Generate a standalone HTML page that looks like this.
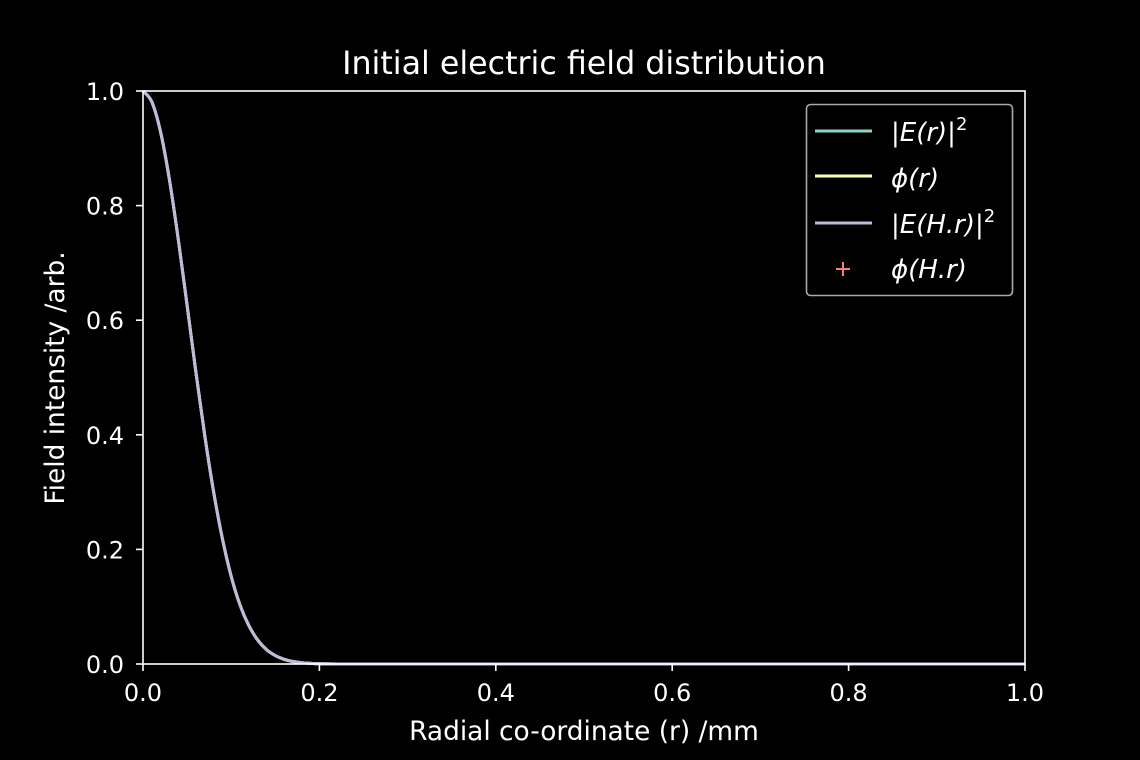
<!DOCTYPE html>
<html><head><meta charset="utf-8"><style>
html,body{margin:0;padding:0;background:#000;}
svg{display:block;font-family:"DejaVu Sans","Liberation Sans",sans-serif;}
</style></head><body>
<svg id="chart" width="1140" height="760" viewBox="0 0 1140 760">
<rect width="1140" height="760" fill="#000"/>
<text x="584" y="74" fill="#fff" font-size="31.7" text-anchor="middle">Initial electric field distribution</text>
<g id="marks"></g>
<g id="axes"></g>
<text x="584" y="740" fill="#fff" font-size="26.4" text-anchor="middle">Radial co-ordinate (r) /mm</text>
<text transform="translate(64,378) rotate(-90)" fill="#fff" font-size="26.4" text-anchor="middle">Field intensity /arb.</text>
<g>
<rect x="806.5" y="104.5" width="206" height="191" rx="4" fill="#000" fill-opacity="0.8" stroke="#aaa" stroke-width="1.6"/>
<g><line x1="815" y1="131" x2="872" y2="131" stroke="#8dd3c7" stroke-width="3"/>
<text x="891" y="141" fill="#fff" font-size="26" font-style="italic">|E(r)|<tspan font-size="18" dy="-11" font-style="normal">2</tspan></text></g>
<g><line x1="815" y1="176" x2="872" y2="176" stroke="#ffffb3" stroke-width="3"/>
<text x="891" y="187" fill="#fff" font-size="26" font-style="italic">ϕ(r)</text></g>
<g><line x1="815" y1="223" x2="872" y2="223" stroke="#bebada" stroke-width="3"/>
<text x="891" y="233" fill="#fff" font-size="26" font-style="italic">|E(H.r)|<tspan font-size="18" dy="-11" font-style="normal">2</tspan></text></g>
<g><path d="M836 269h14M843 262v14" stroke="#fb8072" stroke-width="2"/>
<text x="891" y="278" fill="#fff" font-size="26" font-style="italic">ϕ(H.r)</text></g>
</g>
</svg>
<script>
const rValues=[0,0.01,0.02,0.03,0.04,0.05,0.06,0.07,0.08,0.09,0.10,0.11,0.12,0.13,0.14,0.15,0.16,0.17,0.18,0.19,0.20,0.22,0.25,0.3,0.4,0.5,0.6,0.7,0.8,0.9,1.0];
const eValues=[1,0.981,0.928,0.845,0.741,0.626,0.509,0.399,0.301,0.219,0.153,0.103,0.067,0.042,0.025,0.0147,0.0082,0.0044,0.0023,0.0011,0.0005,0.0001,0,0,0,0,0,0,0,0,0];
const phiValues=eValues.slice();
const ehValues=eValues.slice();
const xTicks=[0,0.2,0.4,0.6,0.8,1.0];
const yTicks=[0,0.2,0.4,0.6,0.8,1.0];
const xTickLabels=["0.0","0.2","0.4","0.6","0.8","1.0"];
const yTickLabels=["0.0","0.2","0.4","0.6","0.8","1.0"];

const X0=143,X1=1025,Y0=664,Y1=91;
const sx=v=>X0+(X1-X0)*v;
const sy=v=>Y0-(Y0-Y1)*v;
const NS="http://www.w3.org/2000/svg";
function mk(t,a){const e=document.createElementNS(NS,t);for(const k in a)e.setAttribute(k,a[k]);return e;}
function pathFor(xs,ys){
  const p=xs.map((x,i)=>[sx(x),sy(ys[i])]);
  let d="M"+p[0][0]+","+p[0][1];
  for(let i=0;i<p.length-1;i++){
    const p0=p[Math.max(i-1,0)],p1=p[i],p2=p[i+1],p3=p[Math.min(i+2,p.length-1)];
    let c1y=p1[1]+(p2[1]-p0[1])/6,c2y=p2[1]-(p3[1]-p1[1])/6;
    c1y=Math.min(c1y,Y0);c2y=Math.min(c2y,Y0);
    d+=" C"+(p1[0]+(p2[0]-p0[0])/6)+","+c1y+" "+(p2[0]-(p3[0]-p1[0])/6)+","+c2y+" "+p2[0]+","+p2[1];
  }
  return d;
}
const marks=document.getElementById('marks');
const series=[[eValues,"#8dd3c7","line-e-r"],[phiValues,"#ffffb3","line-phi-r"],[ehValues,"#bebada","line-e-h-r"]];
series.forEach(s=>{
  const el=mk('path',{d:pathFor(rValues,s[0]),fill:"none",stroke:s[1],"stroke-width":3,"stroke-linejoin":"round"});
  
  
  marks.appendChild(el);
});
const axes=document.getElementById('axes');
const frame=mk('rect',{x:X0,y:Y1,width:X1-X0,height:Y0-Y1,fill:"none",stroke:"#fff","stroke-width":1.6});


axes.appendChild(frame);
xTicks.forEach((v,i)=>{
  const t=mk('line',{x1:sx(v),x2:sx(v),y1:Y0,y2:Y0+7,stroke:"#fff","stroke-width":1.6});
  
  
  axes.appendChild(t);
  const l=mk('text',{x:sx(v),y:Y0+37,fill:"#fff","font-size":24,"text-anchor":"middle"});
  l.textContent=xTickLabels[i];
  
  
  axes.appendChild(l);
});
yTicks.forEach((v,i)=>{
  const t=mk('line',{x1:X0-7,x2:X0,y1:sy(v),y2:sy(v),stroke:"#fff","stroke-width":1.6});
  
  
  axes.appendChild(t);
  const l=mk('text',{x:X0-19,y:sy(v)+9,fill:"#fff","font-size":24,"text-anchor":"end"});
  l.textContent=yTickLabels[i];
  
  
  axes.appendChild(l);
});
</script>
</body></html>
